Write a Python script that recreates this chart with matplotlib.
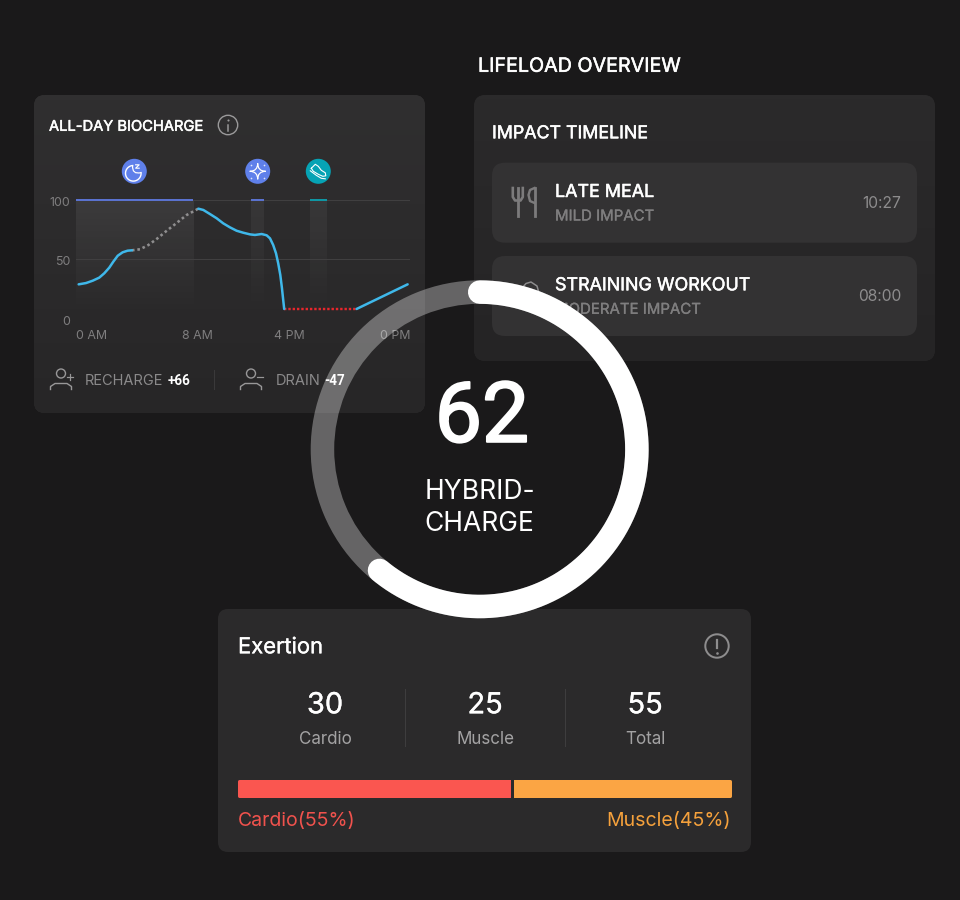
import numpy as np
import matplotlib
matplotlib.use("Agg")
import matplotlib.pyplot as plt
import matplotlib.patheffects as pe
from matplotlib.patches import FancyBboxPatch, Circle, Wedge, PathPatch
from matplotlib.path import Path
from matplotlib.transforms import ScaledTranslation

plt.rcParams["font.family"] = ["Inter", "DejaVu Sans"]

# chart values, x in hours and y in charge level
rise_x = [0.19, 0.72, 1.2, 1.67, 2.03, 2.39, 2.68, 3.0, 3.35, 3.71, 4.02]
rise_y = [28.1, 29.2, 31.2, 33.8, 37.5, 42.3, 47.4, 52.5, 55.4, 56.8, 57.1]
gap_x = [4.02, 4.6, 5.2, 5.8, 6.5, 7.23, 7.95, 8.79]
gap_y = [57.1, 58, 61.6, 66.8, 73.6, 80.4, 87.2, 92.6]
fall_x = [8.79, 9.15, 9.63, 10.11, 10.58, 11.06, 11.54, 12.02, 12.5, 12.86, 13.34, 13.7, 13.94, 14.17, 14.37, 14.53, 14.68, 14.8, 14.89, 14.96]
fall_y = [92.6, 91.5, 88, 84.4, 80.1, 76.7, 73.8, 72.1, 70.7, 70.2, 71, 69.9, 67.3, 61.6, 54.6, 46, 36.1, 24.7, 14.7, 7.1]
low_x = [14.96, 20.16]
low_y = [7.1, 7.1]
end_x = [20.16, 23.83]
end_y = [7.1, 28.1]

band_start = [0, 12.6, 16.8]
band_end = [8.43, 13.5, 18.0]
band_colors = ["#5a72cf", "#5a72cf", "#0f96a3"]

x_ticks = [0, 8.7, 15.3, 24]
x_labels = ["0 AM", "8 AM", "4 PM", "0 PM"]
y_ticks = [0, 50, 100]

events = ["LATE MEAL", "STRAINING WORKOUT"]
impacts = ["MILD IMPACT", "MODERATE IMPACT"]
times = ["10:27", "08:00"]

score = 62
gauge_share = 0.61

exertion_values = [30, 25, 55]
exertion_names = ["Cardio", "Muscle", "Total"]
split_widths = [55.7, 44.3]
split_labels = ["Cardio(55%)", "Muscle(45%)"]

BG = "#1a191a"
CARD = "#2b2a2b"
ROW = "#333233"
WHITE = "#ffffff"
BLUE_LINE = "#3fb8ea"
PX = 0.72  # points per pixel at dpi 100

fig = plt.figure(figsize=(9.6, 9), dpi=100, facecolor=BG)


def px_axes(left, top, right, bottom, zorder):
    ax = fig.add_axes([left / 960, 1 - bottom / 900, (right - left) / 960, (bottom - top) / 900], zorder=zorder)
    ax.patch.set_alpha(0)
    return ax


base = px_axes(0, 0, 960, 900, 0)
base.set_xlim(0, 960)
base.set_ylim(900, 0)
base.axis("off")


def card(x0, y0, x1, y1, color=CARD, radius=10, bottom_color=None):
    box = FancyBboxPatch((x0 + radius, y0 + radius), x1 - x0 - 2 * radius, y1 - y0 - 2 * radius,
                         boxstyle="round,pad=%d,rounding_size=%d" % (radius, radius),
                         fc=color, ec="none", zorder=1)
    base.add_patch(box)
    if bottom_color:
        c0 = np.array(matplotlib.colors.to_rgb(color))
        c1 = np.array(matplotlib.colors.to_rgb(bottom_color))
        t = np.linspace(0, 1, 64)[:, None, None]
        img = base.imshow(c0[None, None, :] * (1 - t) + c1[None, None, :] * t,
                          extent=(x0, x1, y1, y0), aspect="auto", zorder=1)
        img.set_clip_path(box)
        base.set_xlim(0, 960)
        base.set_ylim(900, 0)


def label(ax, x, y, s, size, color=WHITE, heavy=0, ha="left", **kw):
    # centre sits a bit high with Inter metrics, so nudge it down
    t = ax.text(x, y + 1.8, s, fontsize=size * PX, color=color, ha=ha, va="center", zorder=4, **kw)
    if heavy:
        t.set_path_effects([pe.withStroke(linewidth=heavy * PX, foreground=color)])
    return t


card(34, 95, 425, 413, "#302f30", 11, "#272627")
card(474, 95, 935, 361, "#2b2a2b", 12, "#252425")
card(218, 609, 751, 852, CARD, 10)

label(base, 478, 65, "LIFELOAD OVERVIEW", 19.7, heavy=0.5)
label(base, 49, 125, "ALL-DAY BIOCHARGE", 14.7, heavy=0.5)
label(base, 492, 132, "IMPACT TIMELINE", 17.8, heavy=0.5)

# info icon
base.add_patch(Circle((228, 125), 9.7, fc="none", ec="#9a999a", lw=1.4 * PX, zorder=3))
base.plot([228, 228], [124.5, 131], color="#9a999a", lw=1.5 * PX, zorder=3)
base.plot([228], [120], "o", ms=1.5, mew=0, color="#9a999a", zorder=3)

# marker badges above the chart
badges = [(134.3, "#5f80ea"), (257.7, "#5f80ea"), (318.3, "#06a3b4")]
for bx, bc in badges:
    base.add_patch(Circle((bx, 171.3), 12.5, fc=bc, ec="none", zorder=2))

# moon
mx, my = 133.3, 173.3
a = np.radians(np.linspace(-5, 265, 40))
ox, oy = mx + 7.8 * np.cos(a), my + 7.8 * np.sin(a)
base.plot(ox, oy, color=WHITE, lw=1.4 * PX, zorder=3)
moon_in = Path([(ox[-1], oy[-1]), (mx - 1.5, my + 1.5), (ox[0], oy[0])], [Path.MOVETO, Path.CURVE3, Path.CURVE3])
base.add_patch(PathPatch(moon_in, fc="none", ec=WHITE, lw=1.2 * PX, zorder=3))
base.plot([135.6, 139.2, 135.6, 139.2], [164.8, 164.8, 168.2, 168.2], color=WHITE, lw=1.1 * PX, zorder=3)

# sparkle
sx, sy = 257.7, 171.3
star = Path([(sx, sy - 8), (sx, sy), (sx + 8, sy), (sx, sy), (sx, sy + 8), (sx, sy), (sx - 8, sy), (sx, sy), (sx, sy - 8)],
            [Path.MOVETO] + [Path.CURVE3] * 8)
base.add_patch(PathPatch(star, fc="none", ec=WHITE, lw=1.2 * PX, zorder=3))
for dx, dy in [(-6.5, -6.5), (6.5, -6.5), (-6.5, 6.5), (6.5, 6.5)]:
    base.plot([sx + dx], [sy + dy], "o", ms=1.2, color=WHITE, alpha=0.8, mew=0, zorder=3)

# shoe
shoe = np.array([(-7, -3), (-3, -7), (0, -5), (3, -1), (7, 1.5), (7.5, 4.5), (4.5, 5), (0, 3), (-5, 0), (-7, -3)])
base.plot(318.3 + shoe[:, 0], 171.3 + shoe[:, 1], color=WHITE, lw=1.1 * PX, zorder=3)
base.plot([310.3, 316.3, 321.3, 325.3], [170.8, 175.3, 178.3, 178.8], color=WHITE, lw=1.1 * PX, zorder=3)

# biocharge chart
ax = px_axes(76, 200, 410, 317.3, 1)
for s in ax.spines.values():
    s.set_visible(False)

for x0, x1, col, strength in zip(band_start, band_end, band_colors, [0.075, 0.06, 0.06]):
    fade = np.ones((64, 1, 4))
    fade[:, 0, 3] = np.linspace(strength, 0, 64)
    ax.imshow(fade, extent=(x0, x1, 0, 100), aspect="auto", zorder=1)
    ax.hlines(100, x0, x1, color=col, lw=2 * PX, zorder=3, clip_on=False)

ax.set_xlim(0, 24)
ax.set_ylim(0, 100)
ax.set_xticks(x_ticks)
ax.set_xticklabels(x_labels)
ax.set_yticks(y_ticks)
ax.grid(axis="y", color="#403f40", lw=1 * PX, zorder=0)
ax.grid(axis="x", visible=False)
ax.tick_params(length=0, colors="#7f7e7f", labelsize=12.4 * PX)
ax.tick_params(axis="y", pad=4)
ax.tick_params(axis="x", pad=9.5)
xt = ax.get_xticklabels()
xt[0].set_ha("left")
xt[-1].set_ha("right")
for lab, shift in zip(ax.get_yticklabels(), [3, 2, 1.5]):
    lab.set_transform(lab.get_transform() + ScaledTranslation(0, -shift / 100, fig.dpi_scale_trans))

ax.plot(gap_x, gap_y, color="#8f8e8f", lw=2.6 * PX, ls=(0, (1, 1.1)), zorder=4)
ax.plot(low_x, low_y, color="#e8262c", lw=2.4 * PX, ls=(0, (1, 0.8)), zorder=4)
for cx, cy in [(rise_x, rise_y), (fall_x, fall_y), (end_x, end_y)]:
    ax.plot(cx, cy, color=BLUE_LINE, lw=2.5 * PX, solid_capstyle="round", solid_joinstyle="round", zorder=5)


def person(x, y, mark):
    col = "#989798"
    base.add_patch(Circle((x, y), 4.5, fc="none", ec=col, lw=1.4 * PX, zorder=3))
    base.plot([x - 10.5, x - 10.5, x - 6, x + 6, x + 10.5, x + 10.5], [y + 16, y + 13, y + 10, y + 10, y + 13, y + 16],
              color=col, lw=1.4 * PX, zorder=3, solid_joinstyle="round")
    base.plot([x + 6, x + 12], [y + 3.5, y + 3.5], color=col, lw=1.2 * PX, zorder=3)
    if mark == "+":
        base.plot([x + 9, x + 9], [y + 0.5, y + 6.5], color=col, lw=1.2 * PX, zorder=3)


person(61, 373.5, "+")
person(251, 373.5, "-")
label(base, 84.5, 379, "RECHARGE", 14.6, "#8a898a")
label(base, 168, 379, "+66", 13.5, WHITE, weight="bold", family=["Roboto", "DejaVu Sans"])
label(base, 275.5, 379, "DRAIN", 14.6, "#8a898a")
label(base, 324, 379, "-47", 13.5, WHITE, weight="bold", family=["Roboto", "DejaVu Sans"])
base.plot([214, 214], [370, 389], color="#3a393a", lw=1 * PX, zorder=2)

# impact timeline rows
for i, (ev, imp, tm) in enumerate(zip(events, impacts, times)):
    top = 162.7 + i * 93.3
    card(492, top, 917, top + 80, ROW, 13)
    label(base, 555, top + 28, ev, 17.9, heavy=0.5)
    label(base, 555, top + 52, imp, 15, "#7f7e7f", heavy=0.3)
    label(base, 901, top + 39, tm, 15.6, "#8d8c8d", ha="right")

fork_col = "#7c7b7c"
base.plot([512.8, 512.8, 515, 520.6, 522.8, 522.8], [188, 197, 200.5, 200.5, 197, 188], color=fork_col, lw=2.6 * PX, zorder=3)
base.plot([517.8, 517.8], [188, 215.5], color=fork_col, lw=2.8 * PX, zorder=3)
base.plot([534.5, 534.5], [188, 215.5], color=fork_col, lw=2.8 * PX, zorder=3)
base.plot([534.5, 530, 528.5, 530, 534.5], [188, 190, 195, 201, 203], color=fork_col, lw=2.4 * PX, zorder=3)
base.plot([519, 522, 526, 531, 537, 539, 536, 530], [296, 288, 283.5, 282, 286, 293, 300, 304], color="#8d8c8d", lw=1.5 * PX, zorder=3)

# exertion card
label(base, 238, 645.5, "Exertion", 22, heavy=0.3)
base.add_patch(Circle((717, 646), 11.7, fc="none", ec="#8e8d8e", lw=2 * PX, zorder=3))
base.plot([717, 717], [639.5, 648], color="#8e8d8e", lw=2.2 * PX, zorder=3)
base.plot([717], [652.5], "o", ms=1.9, mew=0, color="#8e8d8e", zorder=3)

for i, (val, name) in enumerate(zip(exertion_values, exertion_names)):
    label(base, 325 + i * 160, 704, str(val), 29, ha="center", heavy=0.3)
    label(base, 325 + i * 160, 738, name, 17, "#a3a2a3", ha="center")
for dx in [404.7, 564.7]:
    base.plot([dx, dx], [689, 746], color="#3e3d3e", lw=1 * PX, zorder=2)

bar_ax = px_axes(239, 781, 730, 795.5, 1)
bar_ax.axis("off")
bar_ax.barh(0, split_widths[0], height=1, color="#fa5650", edgecolor="#fa5650", lw=3 * PX, joinstyle="round", clip_on=False)
bar_ax.barh(0, split_widths[1], left=split_widths[0], height=1, color="#fba544", edgecolor="#fba544", lw=3 * PX, joinstyle="round", clip_on=False)
bar_ax.axvline(split_widths[0], color=CARD, lw=3 * PX, ymin=-0.2, ymax=1.2, clip_on=False)
bar_ax.set_xlim(0, 100)
bar_ax.set_ylim(-0.5, 0.5)

label(base, 238, 819, split_labels[0], 19.5, "#f0524d")
label(base, 731, 819, split_labels[1], 19.5, "#f5a13c", ha="right")

# gauge sits over everything else
top = px_axes(0, 0, 960, 900, 5)
top.set_xlim(0, 960)
top.set_ylim(900, 0)
top.axis("off")

cx, cy = 479.7, 449.3
top.add_patch(Wedge((cx, cy), 169, 0, 360, width=23.5, fc=WHITE, ec="none", alpha=0.33, zorder=1))
theta = np.linspace(0, 2 * np.pi * gauge_share, 300)
top.plot(cx + 157.2 * np.sin(theta), cy - 157.2 * np.cos(theta), color=WHITE, lw=23.5 * PX,
         solid_capstyle="round", zorder=2)
label(top, 482, 417, str(score), 84, ha="center", heavy=2, family=["Roboto", "DejaVu Sans"])
label(top, 479.5, 490.5, "HYBRID-", 26.4, ha="center")
label(top, 479.5, 522.5, "CHARGE", 26.4, ha="center")

fig.savefig("out.png", dpi=100, facecolor=BG)
